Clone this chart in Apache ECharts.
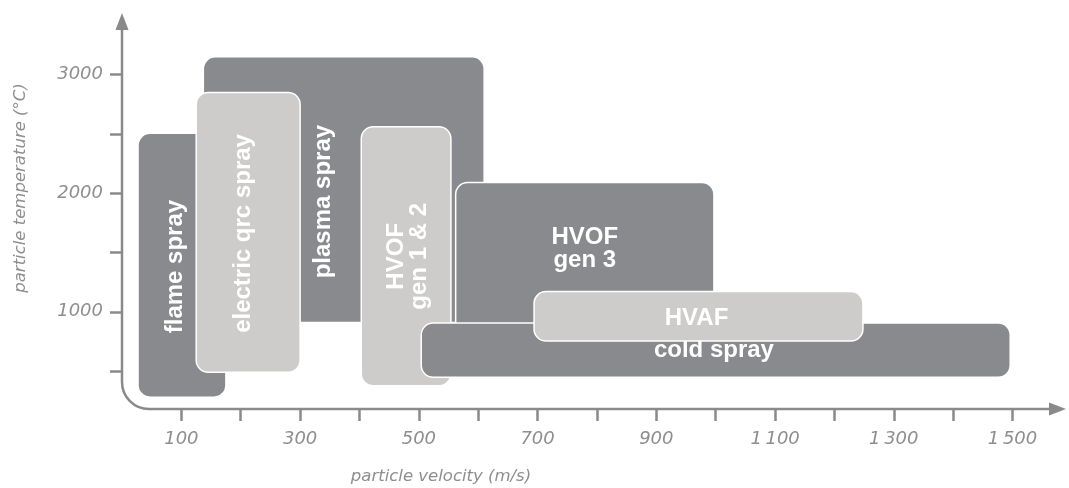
<!DOCTYPE html>
<html>
<head>
<meta charset="utf-8">
<script src="https://cdn.jsdelivr.net/npm/echarts@6/dist/echarts.min.js"></script>
<style>
  html, body { margin: 0; padding: 0; background: #ffffff; }
  #chart { width: 1069px; height: 488px; }
</style>
</head>
<body>
<div id="chart"></div>
<script>
// ---- data ----
const processes   = ['plasma spray', 'flame spray', 'electric qrc spray', 'HVOF\ngen 1 & 2', 'HVOF\ngen 3', 'cold spray', 'HVAF'];
const velocityMin = [137, 27, 125, 403, 562, 504, 694];     // m/s
const velocityMax = [610, 175, 300, 554, 997, 1496, 1248];  // m/s
const tempMin     = [910, 280, 490, 376, 780, 447, 754];    // °C
const tempMax     = [3150, 2505, 2850, 2560, 2090, 905, 1170]; // °C

const xTickValues  = [100, 200, 300, 400, 500, 600, 700, 800, 900, 1000, 1100, 1200, 1300, 1400, 1500];
const xLabelValues = [100, 300, 500, 700, 900, 1100, 1300, 1500];
const yTickValues  = [500, 1000, 1500, 2000, 2500, 3000];
const yLabelValues = [1000, 2000, 3000];

const xAxisName = 'particle velocity (m/s)';
const yAxisName = 'particle temperature (°C)';

// ---- styling / layout ----
const X_MIN = 0, X_MAX = 1590, Y_MIN = 180, Y_MAX = 3520;
const DARK = '#898a8d', LIGHT = '#cdccca', AXIS = '#8a8a8c', TXT = '#8e8e90';
const boxStyle = {
  'plasma spray':       { fill: DARK,  rot: true,  fx: 0.428, fy: 0.545 },
  'flame spray':        { fill: DARK,  rot: true,  fx: 0.42,  fy: 0.505 },
  'electric qrc spray': { fill: LIGHT, rot: true,  fx: 0.454, fy: 0.504 },
  'HVOF\ngen 1 & 2':    { fill: LIGHT, rot: true,  fx: 0.52,  fy: 0.5 },
  'HVOF\ngen 3':        { fill: DARK,  rot: false, fx: 0.5,   fy: 0.43 },
  'cold spray':         { fill: DARK,  rot: false, fx: 0.497, fy: 0.51 },
  'HVAF':               { fill: LIGHT, rot: false, fx: 0.494, fy: 0.54 }
};

const boxData = processes.map((p, i) => [velocityMin[i], velocityMax[i], tempMin[i], tempMax[i], i]);

function fmtX(v) {
  const s = String(v);
  return v >= 1000 ? s.slice(0, s.length - 3) + '\u2009' + s.slice(-3) : s;
}
function fmtY(v) { return String(v); }

const chart = echarts.init(document.getElementById('chart'), null, { renderer: 'canvas' });

const labelFont = { fontFamily: 'DejaVu Sans', fontStyle: 'italic', fontSize: 18, color: TXT };

chart.setOption({
  animation: false,
  backgroundColor: '#ffffff',
  grid: { left: 122, right: 3, top: 13, bottom: 79, containLabel: false },
  xAxis: {
    type: 'value', min: X_MIN, max: X_MAX,
    axisLine: { show: false },
    splitLine: { show: false },
    axisTick: { show: true, customValues: xTickValues, length: 12, lineStyle: { color: AXIS, width: 2.5 } },
    axisLabel: Object.assign({ customValues: xLabelValues, formatter: fmtX, margin: 21 }, labelFont)
  },
  yAxis: {
    type: 'value', min: Y_MIN, max: Y_MAX,
    axisLine: { show: false },
    splitLine: { show: false },
    axisTick: { show: true, customValues: yTickValues, length: 12, lineStyle: { color: AXIS, width: 2.5 } },
    axisLabel: Object.assign({ customValues: yLabelValues, formatter: fmtY, margin: 19 }, labelFont)
  },
  graphic: [
    { type: 'text', x: 441, y: 477, style: { text: xAxisName, align: 'center', verticalAlign: 'middle',
        fontFamily: 'DejaVu Sans', fontStyle: 'italic', fontSize: 16.5, fill: TXT } },
    { type: 'text', x: 21, y: 188, rotation: Math.PI / 2, style: { text: yAxisName, align: 'center', verticalAlign: 'middle',
        fontFamily: 'DejaVu Sans', fontStyle: 'italic', fontSize: 16.5, fill: TXT } }
  ],
  series: [
    {
      type: 'custom',
      name: 'axes',
      silent: true,
      clip: false,
      z: 1,
      data: [[X_MIN, Y_MIN]],
      renderItem: function (params, api) {
        const top = api.coord([X_MIN, Y_MAX]);
        const corner = api.coord([X_MIN, Y_MIN]);
        const right = api.coord([X_MAX, Y_MIN]);
        const x0 = corner[0], y0 = corner[1], r = 27, aL = 17, aW = 6.5;
        const d = 'M' + x0 + ' ' + (top[1] + aL - 1) +
                  ' L' + x0 + ' ' + (y0 - r) +
                  ' A' + r + ' ' + r + ' 0 0 0 ' + (x0 + r) + ' ' + y0 +
                  ' L' + (right[0] - aL + 1) + ' ' + y0;
        return {
          type: 'group',
          children: [
            { type: 'path', shape: { pathData: d }, style: { fill: 'none', stroke: AXIS, lineWidth: 2.5 } },
            { type: 'polygon', shape: { points: [[x0, top[1]], [x0 - aW, top[1] + aL], [x0 + aW, top[1] + aL]] }, style: { fill: AXIS } },
            { type: 'polygon', shape: { points: [[right[0], y0], [right[0] - aL, y0 - aW], [right[0] - aL, y0 + aW]] }, style: { fill: AXIS } }
          ]
        };
      }
    },
    {
      type: 'custom',
      name: 'processes',
      clip: false,
      z: 2,
      data: boxData,
      encode: { x: [0, 1], y: [2, 3] },
      renderItem: function (params, api) {
        const i = api.value(4);
        const name = processes[i];
        const st = boxStyle[name];
        const p1 = api.coord([api.value(0), api.value(3)]);
        const p2 = api.coord([api.value(1), api.value(2)]);
        const w = p2[0] - p1[0], h = p2[1] - p1[1];
        const lx = p1[0] + w * st.fx, ly = p1[1] + h * st.fy;
        return {
          type: 'group',
          children: [
            { type: 'rect', shape: { x: p1[0], y: p1[1], width: w, height: h, r: 12 },
              style: { fill: st.fill, stroke: '#ffffff', lineWidth: 1.5 } },
            { type: 'text', x: lx, y: ly, rotation: st.rot ? Math.PI / 2 : 0,
              style: { text: name, align: 'center', verticalAlign: 'middle', fill: '#ffffff',
                       fontFamily: 'Liberation Sans', fontWeight: 'bold', fontSize: 24, lineHeight: 23 } }
          ]
        };
      }
    }
  ]
});
</script>
</body>
</html>
